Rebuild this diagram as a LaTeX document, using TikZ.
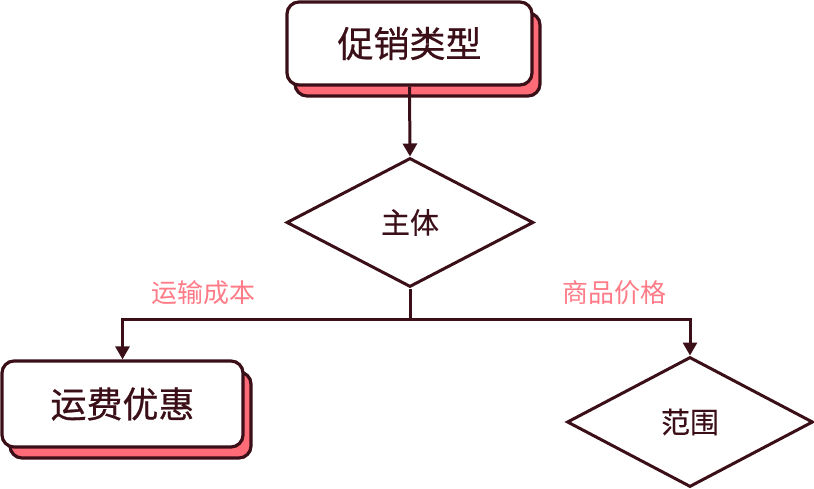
\documentclass[tikz,border=0pt]{standalone}
\usepackage{fontspec}
\setmainfont{Noto Sans CJK SC}
\newfontfamily\boxfont[FakeBold=0.6]{Noto Sans CJK SC}
\newfontfamily\decfont[FakeBold=0.3]{Noto Sans CJK SC}
\usetikzlibrary{shapes.geometric,arrows.meta}
\definecolor{dark}{HTML}{3B0F18}
\definecolor{salmon}{HTML}{FF6B77}
\definecolor{labelpink}{HTML}{FF7B87}
\tikzset{
  procbox/.style={draw=dark, line width=3.2pt, fill=white, rounded corners=12pt, inner sep=0pt,
    text=dark, font=\boxfont\fontsize{36}{42}\selectfont,
    preaction={draw=dark, fill=salmon, line width=3.2pt, transform canvas={xshift=8pt,yshift=-11pt}}},
  decision/.style={diamond, draw=dark, line width=3pt, fill=white, inner sep=0pt, aspect=2,
    text=dark, font=\decfont\fontsize{29}{34}\selectfont},
  conn/.style={draw=dark, line width=3pt},
  arrowconn/.style={conn, -{Triangle[length=13pt,width=14pt]}},
  lbl/.style={text=labelpink, font=\fontsize{26}{30}\selectfont, inner sep=0pt}
}
\begin{document}
\begin{tikzpicture}[x=1pt,y=-1pt]
\useasboundingbox (0,0) rectangle (814,489);
\node[procbox, minimum width=245pt, minimum height=83pt] (a) at (409.5,43.5) {促销类型};
\node[decision, minimum width=247pt, minimum height=129pt] (b) at (410,222.5) {主体};
\node[procbox, minimum width=241pt, minimum height=86pt] (c) at (122.5,404) {运费优惠};
\node[decision, minimum width=246pt, minimum height=130pt] (d) at (690,422) {范围};
\coordinate (j) at (410,319);
\draw[arrowconn] (a.south) -- (b.north);
\draw[conn] (b.south) -- (j);
\draw[arrowconn] (j) -| (c.north);
\draw[arrowconn] (j) -| (d.north);
\node[lbl] (l1) at (203,293) {运输成本};
\node[lbl] (l2) at (614,293) {商品价格};
\end{tikzpicture}
\end{document}
